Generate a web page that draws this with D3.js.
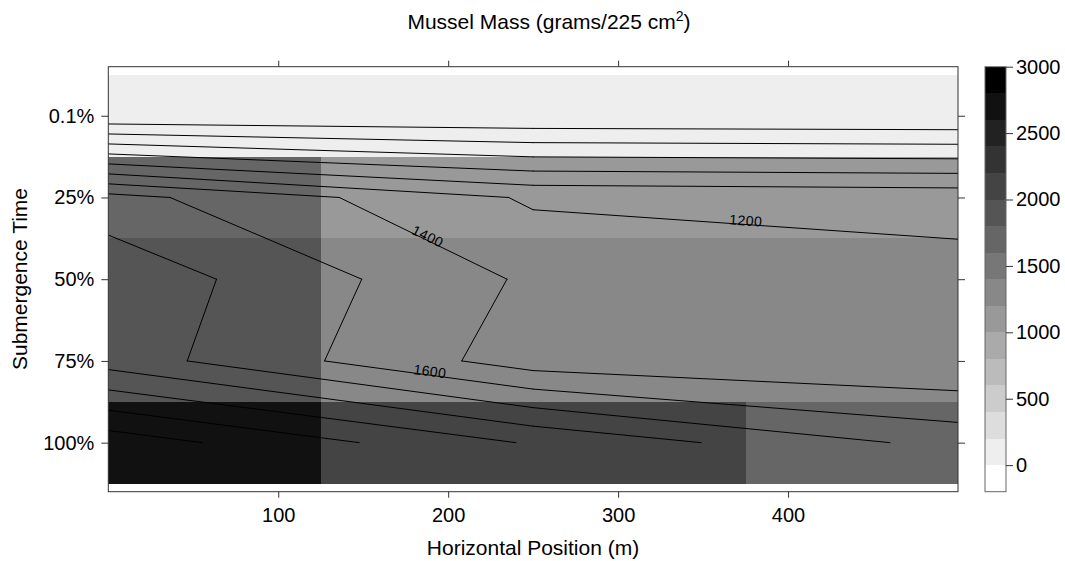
<!DOCTYPE html>
<html>
<head>
<meta charset="utf-8">
<script src="https://cdn.jsdelivr.net/npm/d3@7"></script>
<style>
    body { margin:0; background:#fff; }
    text { font-family: "Liberation Sans", Arial, Helvetica, sans-serif; fill:#000; }
</style>
</head>
<body>
<svg id="canvas" width="1065" height="561"></svg>
<script>
// submergence levels, top row first
var rows = ["0.1%", "25%", "50%", "75%", "100%"];
// horizontal positions (m)
var positions = [0, 250, 500];
// mussel mass per row, one value per position
var mass01 = [35, 22, 8];
var mass25 = [1673, 1171, 1131];
var mass50 = [1949, 1364, 1266];
var mass75 = [1915, 1296, 1211];
var mass100 = [2720, 2178, 1728];
var grid = [mass01, mass25, mass50, mass75, mass100];

var xTicks = [100, 200, 300, 400];
var keyTicks = [0, 500, 1000, 1500, 2000, 2500, 3000];
var cuts = d3.range(-200, 3001, 200);          // colour breaks
var contourLevels = d3.range(200, 2801, 200);  // line levels
// which lines get a label, and about where (x in m, row index)
var labelSpots = [
    {level: 1400, x: 187, row: 2.3},
    {level: 1200, x: 375, row: 2.3},
    {level: 1600, x: 189, row: 4.2}
];

var svg = d3.select("#canvas");
var pLeft = 108.3, pRight = 958, pTop = 66.7, pBottom = 491.7;

var x = d3.scaleLinear().domain([0, 500]).range([pLeft, pRight]);
var y = d3.scaleLinear().domain([0.4, rows.length + 0.6]).range([pTop, pBottom]);

var greys = cuts.slice(1).map(function(d, i){
    var g = Math.round(255 * (1 - i / (cuts.length - 2)));
    return d3.rgb(g, g, g).toString();
});
var color = d3.scaleThreshold().domain(cuts.slice(1, -1)).range(greys);

svg.append("clipPath").attr("id", "panelClip")
    .append("rect").attr("x", pLeft).attr("y", pTop)
    .attr("width", pRight - pLeft).attr("height", pBottom - pTop);

var panel = svg.append("g").attr("clip-path", "url(#panelClip)");

// level plot cells
function bounds(i){
    var lo = i == 0 ? positions[0] - (positions[1] - positions[0]) / 2 : (positions[i - 1] + positions[i]) / 2;
    var hi = i == positions.length - 1 ? positions[i] + (positions[i] - positions[i - 1]) / 2 : (positions[i] + positions[i + 1]) / 2;
    return [Math.max(lo, 0), Math.min(hi, 500)];
}
var cells = [];
grid.forEach(function(r, ri){
    r.forEach(function(v, ci){
        cells.push({row: ri + 1, col: ci, value: v});
    });
});
panel.selectAll("rect.cell").data(cells).enter().append("rect")
    .attr("class", "cell")
    .attr("x", function(d){ return x(bounds(d.col)[0]); })
    .attr("width", function(d){ var b = bounds(d.col); return x(b[1]) - x(b[0]); })
    .attr("y", function(d){ return y(d.row - 0.5); })
    .attr("height", function(d){ return y(d.row + 0.5) - y(d.row - 0.5); })
    .attr("fill", function(d){ return color(d.value); })
    .attr("shape-rendering", "crispEdges");

// marching squares on the small grid -> segments in data units
function contourSegments(level){
    var segs = [];
    for (var r = 0; r < grid.length - 1; r++) {
        for (var c = 0; c < positions.length - 1; c++) {
            var corners = [
                [positions[c], r + 1, grid[r][c]],
                [positions[c + 1], r + 1, grid[r][c + 1]],
                [positions[c + 1], r + 2, grid[r + 1][c + 1]],
                [positions[c], r + 2, grid[r + 1][c]]
            ];
            var pts = [];
            for (var k = 0; k < 4; k++) {
                var a = corners[k], b = corners[(k + 1) % 4];
                if ((a[2] >= level) != (b[2] >= level)) {
                    var t = (level - a[2]) / (b[2] - a[2]);
                    pts.push([a[0] + t * (b[0] - a[0]), a[1] + t * (b[1] - a[1])]);
                }
            }
            if (pts.length == 2) segs.push(pts);
            if (pts.length == 4) { segs.push([pts[0], pts[1]]); segs.push([pts[2], pts[3]]); }
        }
    }
    return segs;
}

var lines = contourLevels.map(function(l){ return {level: l, segs: contourSegments(l)}; });

panel.selectAll("path.contour").data(lines).enter().append("path")
    .attr("class", "contour")
    .attr("d", function(d){
        return d.segs.map(function(s){
            return "M" + x(s[0][0]) + "," + y(s[0][1]) + "L" + x(s[1][0]) + "," + y(s[1][1]);
        }).join("");
    })
    .attr("fill", "none")
    .attr("stroke", "#000")
    .attr("stroke-width", 1)
    .attr("stroke-linecap", "round");

// contour labels sit on the segment nearest the chosen spot
labelSpots.forEach(function(spot){
    var line = lines.filter(function(d){ return d.level == spot.level; })[0];
    var best = null, bestDist = Infinity;
    line.segs.forEach(function(s){
        var x0 = Math.min(s[0][0], s[1][0]), x1 = Math.max(s[0][0], s[1][0]);
        if (spot.x < x0 || spot.x > x1 || x1 == x0) return;
        var t = (spot.x - s[0][0]) / (s[1][0] - s[0][0]);
        var yy = s[0][1] + t * (s[1][1] - s[0][1]);
        if (Math.abs(yy - spot.row) < bestDist) { bestDist = Math.abs(yy - spot.row); best = {s: s, y: yy}; }
    });
    if (!best) return;
    var px = x(spot.x), py = y(best.y);
    var s = best.s;
    var ang = Math.atan2(y(s[1][1]) - y(s[0][1]), x(s[1][0]) - x(s[0][0])) * 180 / Math.PI;
    if (ang > 90) ang -= 180;
    if (ang < -90) ang += 180;
    panel.append("text")
        .attr("transform", "translate(" + px + "," + py + ") rotate(" + ang + ")")
        .attr("text-anchor", "middle")
        .attr("dy", 1)
        .style("font-size", "14px")
        .style("letter-spacing", "0.5px")
        .text(spot.level);
});

// axes
var tickStyle = function(g){
    g.select(".domain").remove();
    g.selectAll(".tick line").attr("stroke", "#333");
    g.selectAll("text").style("font-size", "20px").attr("fill", "#000");
};
svg.append("g").attr("transform", "translate(0," + pBottom + ")")
    .call(d3.axisBottom(x).tickValues(xTicks).tickSize(6).tickPadding(10))
    .call(tickStyle);
svg.append("g").attr("transform", "translate(0," + pTop + ")")
    .call(d3.axisTop(x).tickValues(xTicks).tickSize(6).tickFormat(""))
    .call(tickStyle);
svg.append("g").attr("transform", "translate(" + pLeft + ",0)")
    .call(d3.axisLeft(y).tickValues(d3.range(1, rows.length + 1)).tickSize(7).tickPadding(7)
        .tickFormat(function(d){ return rows[d - 1]; }))
    .call(tickStyle);
svg.append("g").attr("transform", "translate(" + pRight + ",0)")
    .call(d3.axisRight(y).tickValues(d3.range(1, rows.length + 1)).tickSize(7).tickFormat(""))
    .call(tickStyle);

svg.append("rect")
    .attr("x", pLeft).attr("y", pTop)
    .attr("width", pRight - pLeft).attr("height", pBottom - pTop)
    .attr("fill", "none").attr("stroke", "#333").attr("stroke-width", 1);

// colour key
var keyX = 985, keyW = 21;
var ky = d3.scaleLinear().domain([cuts[0], cuts[cuts.length - 1]]).range([pBottom, pTop]);
var bands = cuts.slice(0, -1).map(function(d, i){ return {lo: d, hi: cuts[i + 1]}; });
svg.append("g").selectAll("rect").data(bands).enter().append("rect")
    .attr("x", keyX).attr("width", keyW)
    .attr("y", function(d){ return ky(d.hi); })
    .attr("height", function(d){ return ky(d.lo) - ky(d.hi); })
    .attr("fill", function(d){ return color(d.lo); })
    .attr("shape-rendering", "crispEdges");
svg.append("rect")
    .attr("x", keyX).attr("y", pTop).attr("width", keyW).attr("height", pBottom - pTop)
    .attr("fill", "none").attr("stroke", "#666").attr("stroke-width", 1);
svg.append("g").attr("transform", "translate(" + (keyX + keyW) + ",0)")
    .call(d3.axisRight(ky).tickValues(keyTicks).tickSize(7).tickPadding(3).tickFormat(d3.format("d")))
    .call(tickStyle);

// titles
var title = svg.append("text")
    .attr("x", 549).attr("y", 29)
    .attr("text-anchor", "middle")
    .style("font-size", "21px");
title.append("tspan").text("Mussel Mass (grams/225 cm");
title.append("tspan").attr("dy", -8).style("font-size", "14px").text("2");
title.append("tspan").attr("dy", 8).text(")");

svg.append("text")
    .attr("x", 533).attr("y", 555)
    .attr("text-anchor", "middle")
    .style("font-size", "21px")
    .text("Horizontal Position (m)");

svg.append("text")
    .attr("transform", "translate(27,279) rotate(-90)")
    .attr("text-anchor", "middle")
    .style("font-size", "21px")
    .text("Submergence Time");
</script>
</body>
</html>
